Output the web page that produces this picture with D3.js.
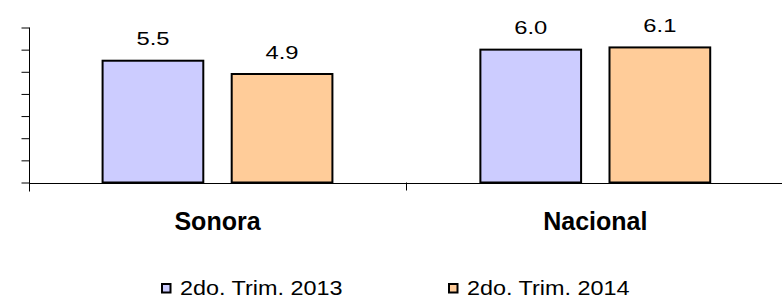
<!DOCTYPE html>
<html>
<head>
<meta charset="utf-8">
<script src="https://cdn.jsdelivr.net/npm/d3@7"></script>
<style>
  html, body { margin: 0; padding: 0; background: #fff; }
  svg { display: block; }
  text { font-family: Arial, "Liberation Sans", sans-serif; fill: #000; }
</style>
</head>
<body>
<svg id="chart" width="782" height="299"></svg>
<script>
const categories = ["Sonora", "Nacional"];
const seriesNames = ["2do. Trim. 2013", "2do. Trim. 2014"];
const values2013 = [5.5, 6.0];
const values2014 = [4.9, 6.1];
const valueLabels2013 = ["5.5", "6.0"];
const valueLabels2014 = ["4.9", "6.1"];
const yTicks = [0, 1, 2, 3, 4, 5, 6, 7];
const colors = ["#CCCCFF", "#FFCC99"];

const seriesValues = [values2013, values2014];
const seriesLabels = [valueLabels2013, valueLabels2014];

const svg = d3.select("#chart");
const plot = { left: 28.6, right: 784.2, top: 27.5, bottom: 182.5 };

const y = d3.scaleLinear().domain([0, 7]).range([plot.bottom, plot.top]);
const x0 = d3.scaleBand().domain(categories).range([plot.left, plot.right]).padding(0);
const x1 = d3.scaleBand().domain(d3.range(seriesNames.length))
  .range([0, x0.bandwidth()]).paddingInner(0.22).paddingOuter(0.573);

// bars
categories.forEach((cat, ci) => {
  seriesNames.forEach((s, si) => {
    const v = seriesValues[si][ci];
    const bx = x0(cat) + x1(si);
    svg.append("rect")
      .attr("x", bx).attr("y", y(v))
      .attr("width", x1.bandwidth()).attr("height", y(0) - y(v))
      .attr("fill", colors[si]).attr("stroke", "#000").attr("stroke-width", 2);
    svg.append("text")
      .attr("transform", `translate(${bx + x1.bandwidth() / 2},${y(v) - 15.5}) scale(1.25,1)`)
      .attr("text-anchor", "middle").attr("font-size", 19)
      .text(seriesLabels[si][ci]);
  });
});

// y axis (no labels)
const yAxis = d3.axisLeft(y).tickValues(yTicks).tickSize(8).tickFormat("").tickSizeOuter(0);
const gy = svg.append("g").attr("transform", "translate(29.5,0)").call(yAxis);
gy.select(".domain").remove();
gy.selectAll(".tick line").attr("stroke", "#000");
svg.append("line").attr("x1", 29.5).attr("x2", 29.5)
  .attr("y1", y(7)).attr("y2", y(0) + 9).attr("stroke", "#000");

// x axis
svg.append("line").attr("x1", 29).attr("x2", 782)
  .attr("y1", Math.round(y(0)) + 0.5).attr("y2", Math.round(y(0)) + 0.5).attr("stroke", "#000");
categories.slice(1).forEach(cat => {
  const bx = Math.round(x0(cat)) + 0.5;
  svg.append("line").attr("x1", bx).attr("x2", bx)
    .attr("y1", y(0)).attr("y2", y(0) + 8).attr("stroke", "#000");
});

// category labels
categories.forEach(cat => {
  svg.append("text")
    .attr("x", x0(cat) + x0.bandwidth() / 2).attr("y", 229.5)
    .attr("text-anchor", "middle").attr("font-size", 25).attr("font-weight", "bold")
    .text(cat);
});

// legend
const legendX = [162, 449];
seriesNames.forEach((s, si) => {
  svg.append("rect").attr("x", legendX[si]).attr("y", 284).attr("width", 8.5).attr("height", 8.5)
    .attr("fill", colors[si]).attr("stroke", "#000").attr("stroke-width", 2);
  svg.append("text")
    .attr("transform", `translate(${legendX[si] + 18},295) scale(1.2,1)`)
    .attr("font-size", 19.5).text(s);
});
</script>
</body>
</html>
